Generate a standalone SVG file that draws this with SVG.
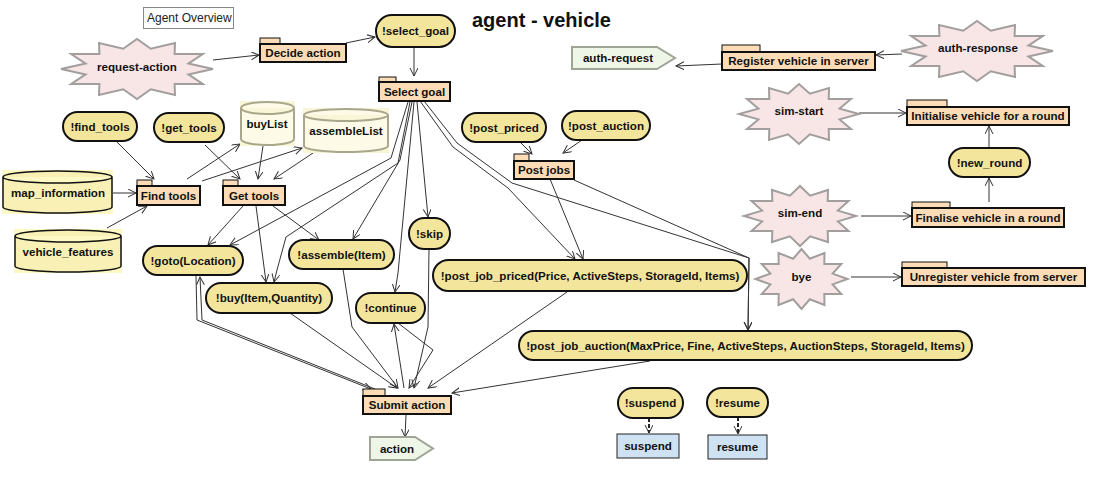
<svg xmlns="http://www.w3.org/2000/svg" width="1100" height="502" viewBox="0 0 1100 502">
<style>
.lbl{font-family:"Liberation Sans",Arial,sans-serif;font-weight:bold;font-size:11.6px;text-anchor:middle;fill:#111}
.goal{fill:#f4e59c;stroke:#111;stroke-width:2}
.pkg{fill:#fcdcb6;stroke:#111;stroke-width:2}
.tab{fill:#fcdcb6;stroke:#111;stroke-width:1}
.star{fill:#f8e6e6;stroke:#a29e9e;stroke-width:2}
.msg{fill:#eef6e8;stroke:#9ea597;stroke-width:2}
.act{fill:#cfe2f3;stroke:#222;stroke-width:1}
.dbg1{fill:#fdf8c4}
.db1{fill:#f8f0b4;stroke:#111;stroke-width:1.5}
.dbg2{fill:#f9f6d8}
.db2{fill:#fdfbe8;stroke:#a9a68c;stroke-width:2}
.edge{fill:none;stroke:#333;stroke-width:1;marker-end:url(#arr)}
.dash{fill:none;stroke:#222;stroke-width:2;stroke-dasharray:4 2;marker-end:url(#arr)}
</style>
<defs>
<marker id="arr" markerUnits="userSpaceOnUse" markerWidth="10" markerHeight="10" refX="8" refY="4" orient="auto">
<path d="M0,0 L8,4 L0,8" fill="none" stroke="#333" stroke-width="1"/>
</marker>
</defs>
<rect width="1100" height="502" fill="#fff"/>
<g id="title">
<rect x="143.5" y="7.5" width="90" height="21" fill="#fff" stroke="#888" stroke-width="1"/>
<text x="147" y="22" style="font-family:'Liberation Sans',Arial,sans-serif;font-size:12px;fill:#222">Agent Overview</text>
<text x="472" y="27" style="font-family:'Liberation Sans',Arial,sans-serif;font-size:20px;font-weight:bold;fill:#111">agent - vehicle</text>
</g>
<g id="connectors">
<path class="edge" d="M213,60 L259,55"/>
<path class="edge" d="M346,43 L375,37"/>
<path class="edge" d="M414,47 L414,76"/>
<path class="edge" d="M117,142 L154,179"/>
<path class="edge" d="M205,145 L240,179"/>
<path class="edge" d="M187,179 L240,144"/>
<path class="edge" d="M202,181 L302,148"/>
<path class="edge" d="M263,146 L258,179"/>
<path class="edge" d="M313,153 L274,179"/>
<path class="edge" d="M113,193 L136,193"/>
<path class="edge" d="M107,228 L147,206"/>
<path class="edge" d="M243,206 L208,245"/>
<path class="edge" d="M256,206 L266,282"/>
<path class="edge" d="M273,206 L319,240"/>
<path class="edge" d="M408,102 L391,158 L230,245"/>
<path class="edge" d="M410,102 L398,163 L286,237 L277,270 L274,282"/>
<path class="edge" d="M412,102 L400,160 L353,239"/>
<path class="edge" d="M414,102 L398,273 L395,292"/>
<path class="edge" d="M417,102 L428,217"/>
<path class="edge" d="M420,101 L453,147 L508,188 L575,259"/>
<path class="edge" d="M424,101 L457,143 L512,183 L749,258 L748,330"/>
<path class="edge" d="M550,179 L583,259"/>
<path class="edge" d="M574,180 L749,258 L748,330"/>
<path class="edge" d="M519,141 L532,154"/>
<path class="edge" d="M585,138 L563,153"/>
<path class="edge" d="M196,276 L197,320 L371,389"/>
<path class="edge" d="M375,389 L202,320 L200,277"/>
<path class="edge" d="M290,313 L397,388"/>
<path class="edge" d="M343,269 L352,327 L398,388"/>
<path class="edge" d="M398,323 L433,350 L409,388"/>
<path class="edge" d="M404,388 L394,324"/>
<path class="edge" d="M429,249 L428,327 L414,388"/>
<path class="edge" d="M567,292 L428,388"/>
<path class="edge" d="M650,361 L452,393"/>
<path class="edge" d="M406,415 L405,437"/>
<path class="edge" d="M722,64 L676,66"/>
<path class="edge" d="M902,54 L876,55"/>
<path class="edge" d="M859,113 L906,113"/>
<path class="edge" d="M989,148 L989,126"/>
<path class="edge" d="M989,202 L989,178"/>
<path class="edge" d="M861,216 L911,216"/>
<path class="edge" d="M851,277 L901,277"/>
<path class="dash" d="M649,418 L649,433"/>
<path class="dash" d="M738,417 L738,434"/>
</g>
<g id="request-action"><polygon class="star" points="213,69 188.4,63.6 202.8,54 174.6,54.1 175,43 150.8,48.7 137,39 123.2,48.7 99,43 99.4,54.1 71.2,54 85.6,63.6 61,69 85.6,74.4 71.2,84 99.4,83.9 99,95 123.2,89.3 137,99 150.8,89.3 175,95 174.6,83.9 202.8,84 188.4,74.4"/><text class="lbl" x="137" y="71">request-action</text></g>
<g id="decide-action"><rect class="tab" x="260" y="38" width="20" height="6"/><rect class="pkg" x="260" y="44" width="86" height="18"/><text class="lbl" x="303" y="57">Decide action</text></g>
<g id="select_goal"><rect class="goal" x="376" y="15" width="79" height="32" rx="16"/><text class="lbl" x="415.5" y="35">!select_goal</text></g>
<g id="select-goal"><rect class="tab" x="379" y="77" width="17" height="5"/><rect class="pkg" x="379" y="82" width="71" height="19"/><text class="lbl" x="414.5" y="95.5">Select goal</text></g>
<g id="find_tools"><rect class="goal" x="63" y="112" width="74" height="29" rx="14.5"/><text class="lbl" x="100" y="130.5">!find_tools</text></g>
<g id="get_tools"><rect class="goal" x="154" y="113" width="70" height="29" rx="14.5"/><text class="lbl" x="189" y="131.5">!get_tools</text></g>
<g id="buyList"><rect class="dbg2" x="240" y="101" width="55" height="45"/><path class="db2" d="M241,108 A26.5,6 0 0 1 294,108 V139 A26.5,6 0 0 1 241,139 Z M241,108 A26.5,6 0 0 0 294,108"/><text class="lbl" x="267" y="128">buyList</text></g>
<g id="assembleList"><rect class="dbg2" x="303" y="108" width="86" height="45"/><path class="db2" d="M304,115 A42,6 0 0 1 388,115 V146 A42,6 0 0 1 304,146 Z M304,115 A42,6 0 0 0 388,115"/><text class="lbl" x="346" y="135">assembleList</text></g>
<g id="map_information"><rect class="dbg1" x="2" y="170" width="111" height="44"/><path class="db1" d="M3,177 A54.5,6 0 0 1 112,177 V207 A54.5,6 0 0 1 3,207 Z M3,177 A54.5,6 0 0 0 112,177"/><text class="lbl" x="58" y="197">map_information</text></g>
<g id="vehicle_features"><rect class="dbg1" x="14" y="229" width="108" height="44"/><path class="db1" d="M15,236 A53,6 0 0 1 121,236 V266 A53,6 0 0 1 15,266 Z M15,236 A53,6 0 0 0 121,236"/><text class="lbl" x="68" y="256">vehicle_features</text></g>
<g id="find-tools"><rect class="tab" x="137" y="180" width="15" height="6"/><rect class="pkg" x="137" y="186" width="63" height="19"/><text class="lbl" x="168.5" y="199.5">Find tools</text></g>
<g id="get-tools"><rect class="tab" x="223" y="180" width="15" height="6"/><rect class="pkg" x="223" y="186" width="62" height="19"/><text class="lbl" x="254" y="199.5">Get tools</text></g>
<g id="goto"><rect class="goal" x="143" y="246" width="100" height="29" rx="14.5"/><text class="lbl" x="193" y="264.5">!goto(Location)</text></g>
<g id="buy"><rect class="goal" x="206" y="283" width="126" height="30" rx="15"/><text class="lbl" x="269" y="302">!buy(Item,Quantity)</text></g>
<g id="assemble"><rect class="goal" x="289" y="240" width="105" height="29" rx="14.5"/><text class="lbl" x="341.5" y="258.5">!assemble(Item)</text></g>
<g id="skip"><rect class="goal" x="409" y="218" width="41" height="31" rx="15.5"/><text class="lbl" x="429.5" y="237.5">!skip</text></g>
<g id="continue"><rect class="goal" x="356" y="293" width="69" height="30" rx="15"/><text class="lbl" x="390.5" y="312">!continue</text></g>
<g id="post_priced"><rect class="goal" x="462" y="113" width="84" height="29" rx="14.5"/><text class="lbl" x="504" y="131.5">!post_priced</text></g>
<g id="post_auction"><rect class="goal" x="562" y="111" width="88" height="29" rx="14.5"/><text class="lbl" x="606" y="129.5">!post_auction</text></g>
<g id="post-jobs"><rect class="tab" x="514" y="154" width="15" height="7"/><rect class="pkg" x="514" y="161" width="60" height="18"/><text class="lbl" x="544" y="174">Post jobs</text></g>
<g id="post_job_priced"><rect class="goal" x="433" y="260" width="314" height="31" rx="15.5"/><text class="lbl" x="590" y="279.5">!post_job_priced(Price, ActiveSteps, StorageId, Items)</text></g>
<g id="post_job_auction"><rect class="goal" x="519" y="331" width="453" height="29" rx="14.5"/><text class="lbl" x="745.5" y="349.5">!post_job_auction(MaxPrice, Fine, ActiveSteps, AuctionSteps, StorageId, Items)</text></g>
<g id="submit-action"><rect class="tab" x="363" y="389" width="22" height="7"/><rect class="pkg" x="363" y="396" width="88" height="18"/><text class="lbl" x="407" y="409">Submit action</text></g>
<g id="action"><polygon class="msg" points="370,437 415,437 433,448.5 415,460 370,460"/><text class="lbl" x="397" y="453">action</text></g>
<g id="auth-request"><polygon class="msg" points="572,47 657,47 675,58 657,69 572,69"/><text class="lbl" x="618" y="62">auth-request</text></g>
<g id="register"><rect class="tab" x="722" y="45" width="38" height="7"/><rect class="pkg" x="722" y="52" width="153" height="18"/><text class="lbl" x="798.5" y="65">Register vehicle in server</text></g>
<g id="auth-response"><polygon class="star" points="1053,51 1028.4,45.6 1042.8,36 1014.6,36.1 1015,25 990.8,30.7 977,21 963.2,30.7 939,25 939.4,36.1 911.2,36 925.6,45.6 901,51 925.6,56.4 911.2,66 939.4,65.9 939,77 963.2,71.3 977,81 990.8,71.3 1015,77 1014.6,65.9 1042.8,66 1028.4,56.4"/><text class="lbl" x="978" y="52">auth-response</text></g>
<g id="sim-start"><polygon class="star" points="859,114 839.6,108.6 851,99 828.7,99.1 829,88 809.9,93.7 799,84 788.1,93.7 769,88 769.3,99.1 747,99 758.4,108.6 739,114 758.4,119.4 747,129 769.3,128.9 769,140 788.1,134.3 799,144 809.9,134.3 829,140 828.7,128.9 851,129 839.6,119.4"/><text class="lbl" x="799" y="115">sim-start</text></g>
<g id="initialise"><rect class="tab" x="907" y="100" width="40" height="7"/><rect class="pkg" x="907" y="107" width="162" height="18"/><text class="lbl" x="988" y="120">Initialise vehicle for a round</text></g>
<g id="new_round"><rect class="goal" x="949" y="148" width="81" height="29" rx="14.5"/><text class="lbl" x="989.5" y="166.5">!new_round</text></g>
<g id="sim-end"><polygon class="star" points="856,216 837.9,210.6 848.5,201 827.7,201.1 828,190 810.1,195.7 800,186 789.9,195.7 772,190 772.3,201.1 751.5,201 762.1,210.6 744,216 762.1,221.4 751.5,231 772.3,230.9 772,242 789.9,236.3 800,246 810.1,236.3 828,242 827.7,230.9 848.5,231 837.9,221.4"/><text class="lbl" x="800" y="217">sim-end</text></g>
<g id="finalise"><rect class="tab" x="912" y="202" width="38" height="6"/><rect class="pkg" x="912" y="208" width="152" height="19"/><text class="lbl" x="988" y="221.5">Finalise vehicle in a round</text></g>
<g id="bye"><polygon class="star" points="847.5,279 832.6,273.6 841.3,264 824.3,264.1 824.5,253 809.8,258.7 801.5,249 793.2,258.7 778.5,253 778.7,264.1 761.7,264 770.4,273.6 755.5,279 770.4,284.4 761.7,294 778.7,293.9 778.5,305 793.2,299.3 801.5,309 809.8,299.3 824.5,305 824.3,293.9 841.3,294 832.6,284.4"/><text class="lbl" x="801.5" y="281">bye</text></g>
<g id="unregister"><rect class="tab" x="902" y="262" width="45" height="6"/><rect class="pkg" x="902" y="268" width="183" height="18"/><text class="lbl" x="993.5" y="281">Unregister vehicle from server</text></g>
<g id="suspend_goal"><rect class="goal" x="618" y="388" width="65" height="30" rx="15"/><text class="lbl" x="650.5" y="407">!suspend</text></g>
<g id="resume_goal"><rect class="goal" x="707" y="388" width="61" height="29" rx="14.5"/><text class="lbl" x="737.5" y="406.5">!resume</text></g>
<g id="suspend"><rect class="act" x="617" y="434" width="62" height="24"/><text class="lbl" x="648" y="450">suspend</text></g>
<g id="resume"><rect class="act" x="708" y="435" width="59" height="24"/><text class="lbl" x="737.5" y="451">resume</text></g>
</svg>
